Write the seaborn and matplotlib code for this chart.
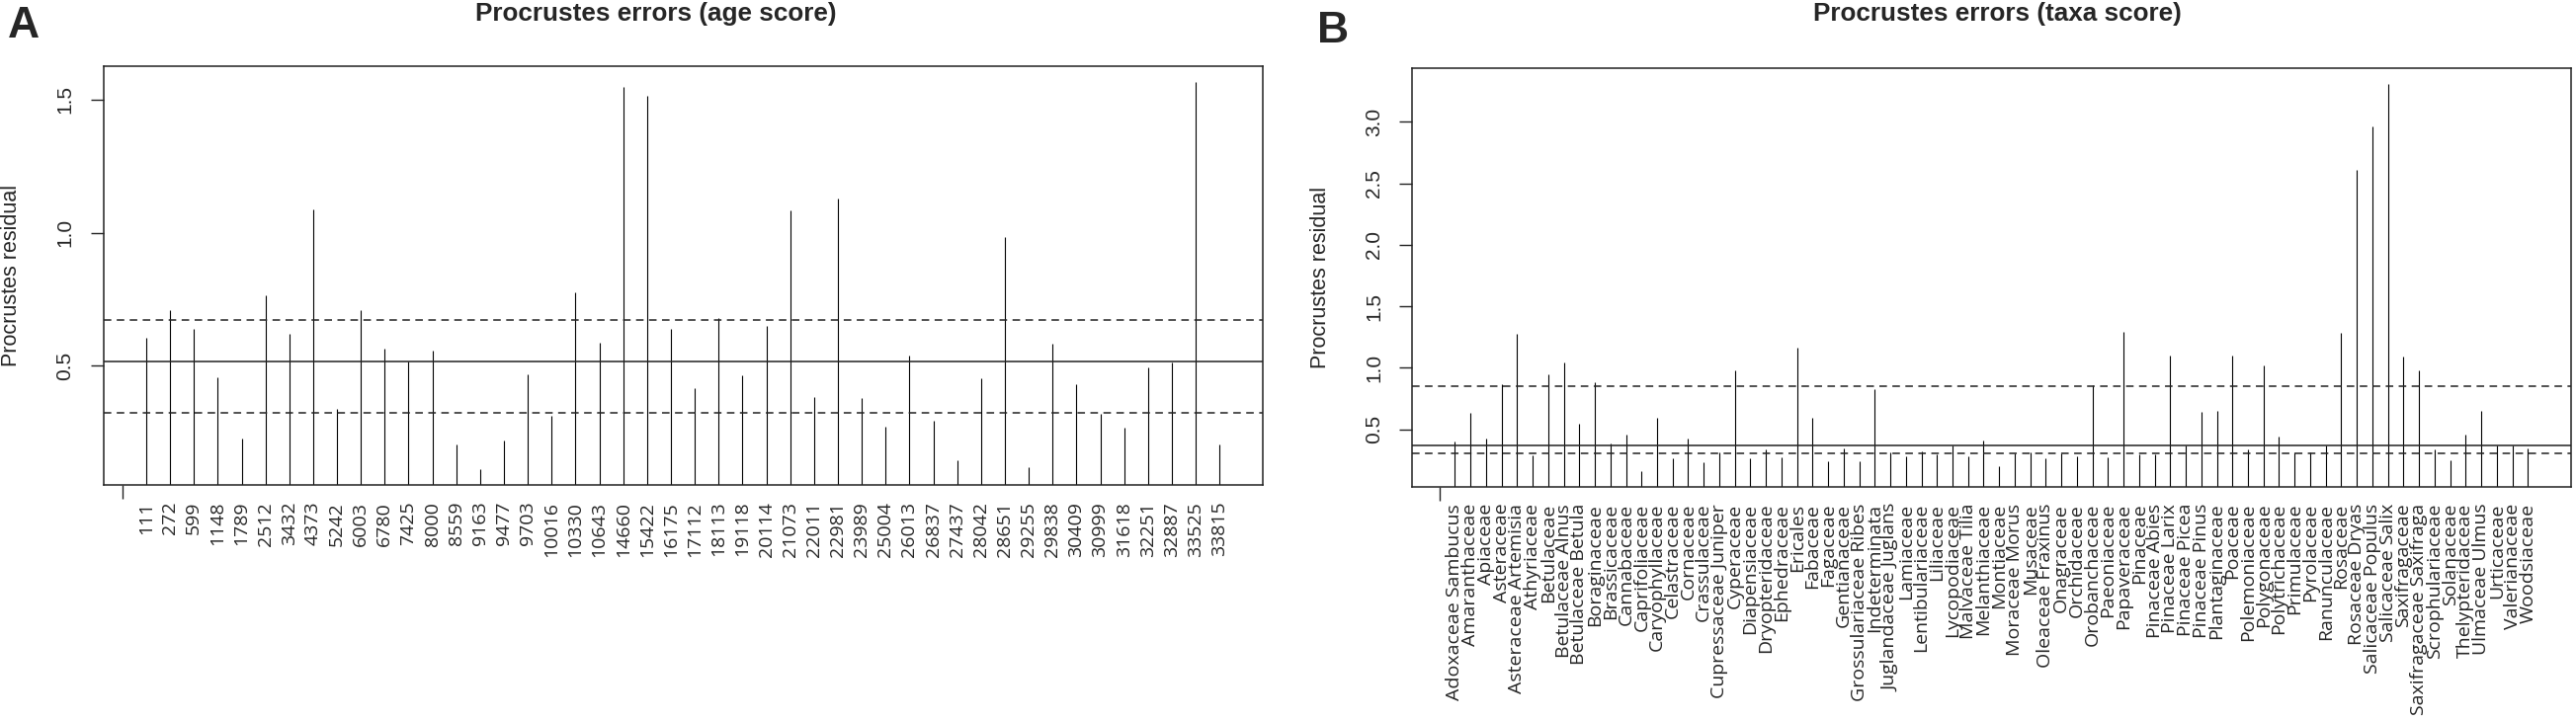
import numpy as np
import matplotlib
matplotlib.use("Agg")
import matplotlib.pyplot as plt
import seaborn as sns

# Data: Procrustes residuals
age_labels = ["111", "272", "599", "1148", "1789", "2512", "3432", "4373", "5242", "6003",
              "6780", "7425", "8000", "8559", "9163", "9477", "9703", "10016", "10330", "10643",
              "14660", "15422", "16175", "17112", "18113", "19118", "20114", "21073", "22011", "22981",
              "23989", "25004", "26013", "26837", "27437", "28042", "28651", "29255", "29838", "30409",
              "30999", "31618", "32251", "32887", "33525", "33815"]
age_resid = [0.605, 0.711, 0.640, 0.458, 0.228, 0.766, 0.620, 1.089, 0.339, 0.708,
             0.563, 0.517, 0.556, 0.206, 0.112, 0.221, 0.467, 0.311, 0.775, 0.587,
             1.549, 1.514, 0.639, 0.416, 0.680, 0.463, 0.648, 1.084, 0.381, 1.129,
             0.378, 0.270, 0.539, 0.295, 0.145, 0.454, 0.982, 0.119, 0.584, 0.432,
             0.320, 0.269, 0.493, 0.514, 1.566, 0.206]

taxa_labels = ["Adoxaceae Sambucus", "Amaranthaceae", "Apiaceae", "Asteraceae", "Asteraceae Artemisia",
               "Athyriaceae", "Betulaceae", "Betulaceae Alnus", "Betulaceae Betula", "Boraginaceae",
               "Brassicaceae", "Cannabaceae", "Caprifoliaceae", "Caryophyllaceae", "Celastraceae",
               "Cornaceae", "Crassulaceae", "Cupressaceae Juniper", "Cyperaceae", "Diapensiaceae",
               "Dryopteridaceae", "Ephedraceae", "Ericales", "Fabaceae", "Fagaceae",
               "Gentianaceae", "Grossulariaceae Ribes", "Indeterminata", "Juglandaceae Juglans", "Lamiaceae",
               "Lentibulariaceae", "Liliaceae", "Lycopodiaceae", "Malvaceae Tilia", "Melanthiaceae",
               "Montiaceae", "Moraceae Morus", "Musaceae", "Oleaceae Fraxinus", "Onagraceae",
               "Orchidaceae", "Orobanchaceae", "Paeoniaceae", "Papaveraceae", "Pinaceae",
               "Pinaceae Abies", "Pinaceae Larix", "Pinaceae Picea", "Pinaceae Pinus", "Plantaginaceae",
               "Poaceae", "Polemoniaceae", "Polygonaceae", "Polytrichaceae", "Primulaceae",
               "Pyrolaceae", "Ranunculaceae", "Rosaceae", "Rosaceae Dryas", "Salicaceae Populus",
               "Salicaceae Salix", "Saxifragaceae", "Saxifragaceae Saxifraga", "Scrophulariaceae", "Solanaceae",
               "Thelypteridaceae", "Ulmaceae Ulmus", "Urticaceae", "Valerianaceae", "Woodsiaceae"]
taxa_resid = [0.398, 0.629, 0.422, 0.865, 1.279, 0.285, 0.949, 1.043, 0.541, 0.882,
              0.382, 0.460, 0.159, 0.594, 0.264, 0.422, 0.229, 0.309, 0.981, 0.264,
              0.339, 0.272, 1.161, 0.594, 0.240, 0.342, 0.240, 0.825, 0.309, 0.280,
              0.323, 0.299, 0.371, 0.280, 0.412, 0.202, 0.304, 0.309, 0.264, 0.304,
              0.277, 0.857, 0.272, 1.292, 0.299, 0.299, 1.096, 0.366, 0.640, 0.645,
              1.096, 0.336, 1.016, 0.438, 0.315, 0.315, 0.368, 1.284, 2.611, 2.963,
              3.310, 1.091, 0.978, 0.339, 0.247, 0.454, 0.645, 0.371, 0.366, 0.342]

age_yticks = [0.5, 1.0, 1.5]
taxa_yticks = [0.5, 1.0, 1.5, 2.0, 2.5, 3.0]

sns.set_theme(style="ticks")
plt.rcParams['font.family'] = ['Liberation Sans', 'DejaVu Sans']

W, H = 2607, 730
fig = plt.figure(figsize=(W / 100, H / 100), dpi=100)
axA = fig.add_axes([104.5 / W, (H - 490.7) / H, 1173.2 / W, 423.4 / H])
axB = fig.add_axes([1429 / W, (H - 492.7) / H, 1172.7 / W, 423.7 / H])


def residual_panel(ax, labels, resid, yticks):
    vals = np.array(resid)
    n = len(vals)
    idx = np.arange(1, n + 1)
    # near-zero width bars with a thin edge -> crisp "type h" spikes
    sns.barplot(x=idx, y=vals, native_scale=True, width=1e-4, color='black',
                edgecolor='black', linewidth=0.8, errorbar=None, ax=ax)
    # quartile lines like vegan's plot.procrustes(kind=2)
    q = np.quantile(vals, [0.25, 0.5, 0.75])
    ax.axhline(q[1], color='#222222', lw=1.1)
    for qq in (q[0], q[2]):
        ax.axhline(qq, color='#222222', lw=1.1, dashes=(5, 3.6))
    r = vals.max() - vals.min()
    ax.set_ylim(vals.min() - 0.04 * r, vals.max() + 0.04 * r)
    ax.set_xlim(1 - 0.04 * (n - 1), n + 0.04 * (n - 1))
    ax.set_xticks(idx)
    ax.set_xticklabels(labels, rotation=90, family=['Open Sans', 'DejaVu Sans'], fontsize=14)
    ax.tick_params(axis='x', which='major', length=0, pad=12.3)
    ax.set_xticks(np.arange(0, n + 1, 10), minor=True)
    ax.tick_params(axis='x', which='minor', length=10, width=1, color='#222222')
    ax.set_yticks(yticks)
    ax.set_yticklabels([f"{t:.1f}" for t in yticks], rotation=90, va='center')
    ax.tick_params(axis='y', length=9.4, width=1, pad=11.5, labelsize=15, color='#222222')
    ax.set_xlabel('')
    ax.set_ylabel('')
    for s in ax.spines.values():
        s.set_visible(True)
        s.set_linewidth(1.1)
        s.set_color('#222222')


residual_panel(axA, age_labels, age_resid, age_yticks)
residual_panel(axB, taxa_labels, taxa_resid, taxa_yticks)

title_font = dict(family=['Liberation Sans Narrow', 'Liberation Sans', 'DejaVu Sans'],
                  weight='bold', fontsize=18.8, ha='center', va='center')
fig.text(664 / W, 1 - 14 / H, 'Procrustes errors (age score)', **title_font)
fig.text(2021 / W, 1 - 14 / H, 'Procrustes errors (taxa score)', **title_font)

fig.text(8 / W, 1 - 6 / H, 'A', fontsize=32, weight='bold', ha='left', va='top')
fig.text(1333 / W, 1 - 11 / H, 'B', fontsize=32, weight='bold', ha='left', va='top')

fig.text(12 / W, 1 - 279 / H, 'Procrustes residual', rotation=90, fontsize=15.5, ha='center', va='center')
fig.text(1336 / W, 1 - 281 / H, 'Procrustes residual', rotation=90, fontsize=15.5, ha='center', va='center')

fig.savefig('out.png', dpi=100, facecolor='white')
